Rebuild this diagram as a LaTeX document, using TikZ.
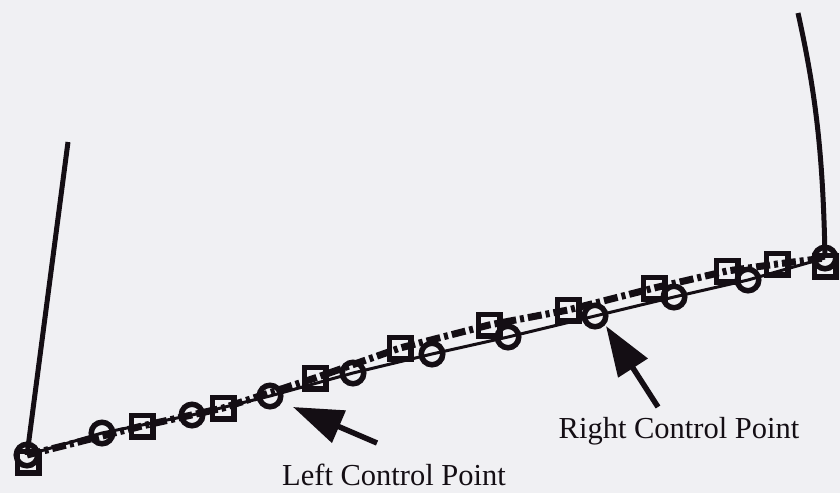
\documentclass[tikz,border=0pt]{standalone}
\usepackage{fontspec}
\setmainfont{Liberation Serif}
\usetikzlibrary{arrows.meta}
\definecolor{bg}{RGB}{240,240,243}
\definecolor{ink}{RGB}{20,14,20}
\begin{document}
\begin{tikzpicture}[x=1pt,y=-1pt,
  sq/.style={draw=ink,line width=5.5pt,minimum size=21.5pt,inner sep=0pt,shape=rectangle},
  ci/.style={draw=ink,line width=5.5pt,minimum size=21.5pt,inner sep=0pt,shape=circle},
  solidc/.style={draw=ink,line width=3pt},
  dashc/.style={draw=ink,line width=7pt,dash pattern=on 14pt off 4pt on 4pt off 4pt},
  stem/.style={draw=ink,line width=5pt},
  pointer/.style={draw=ink,line width=5.5pt,-{Triangle[length=50pt,width=34pt]}},
  lab/.style={font=\fontsize{30.5}{36}\selectfont,text=ink,inner sep=0pt,anchor=base}]
\fill[bg] (0,0) rectangle (840,493);
\useasboundingbox (0,0) rectangle (840,493);
% vertical stems
\coordinate (lt) at (68,142);
\coordinate (rt) at (798,13);
% circles (solid curve)
\coordinate (c1) at (27,455);
\coordinate (c2) at (102,433);
\coordinate (c3) at (192,415);
\coordinate (c4) at (270,396);
\coordinate (c5) at (353,373);
\coordinate (c6) at (432,354);
\coordinate (c7) at (508,337);
\coordinate (c8) at (595,316);
\coordinate (c9) at (674,297);
\coordinate (c10) at (748,280);
\coordinate (c11) at (825,258);
% squares (dash-dot curve)
\coordinate (s1) at (28,462);
\coordinate (s2) at (142,426);
\coordinate (s3) at (223,408);
\coordinate (s4) at (315,378);
\coordinate (s5) at (400,348);
\coordinate (s6) at (489,325);
\coordinate (s7) at (568,310);
\coordinate (s8) at (654,288);
\coordinate (s9) at (727,271);
\coordinate (s10) at (777,264);
\coordinate (s11) at (825,266);
\draw[stem] (lt) -- (c1);
\draw[stem] (rt) .. controls (815,90) and (823,150) .. (c11);
\draw[solidc] (c1) -- (c2) -- (c3) -- (c4) -- (c5) -- (c6) -- (c7) -- (c8) -- (c9) -- (c10) -- (c11);
\draw[dashc] (c1) -- (s2) -- (s3) -- (s4) -- (s5) -- (s6) -- (s7) -- (s8) -- (s9) -- (s10) -- (c11);
\foreach \n in {s1,s2,s3,s4,s5,s6,s7,s8,s9,s10,s11}
  \node[sq] (m\n) at (\n) {};
\foreach \n in {c1,c2,c3,c4,c5,c6,c7,c8,c9,c10,c11}
  \node[ci] (m\n) at (\n) {};
% labels and pointers
\node[lab] (ll) at (394,485) {Left Control Point};
\node[lab] (rl) at (679,438) {Right Control Point};
\coordinate (lta) at (377,443);
\coordinate (rta) at (658,407);
\coordinate (ltip) at (293,407);
\coordinate (rtip) at (606,326);
\draw[pointer] (lta) -- (ltip);
\draw[pointer] (rta) -- (rtip);
\end{tikzpicture}
\end{document}
